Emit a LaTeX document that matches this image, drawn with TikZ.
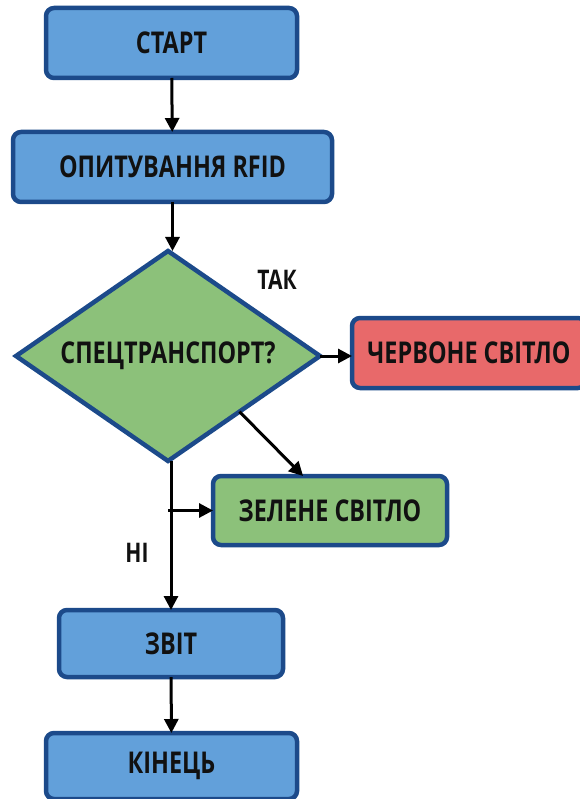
\documentclass[tikz,border=0pt]{standalone}
\usepackage{fontspec}
\setmainfont{Open Sans}[FakeStretch=0.78]
\usetikzlibrary{shapes.geometric,arrows.meta,calc}
\definecolor{edgeblue}{HTML}{1C4A8A}
\definecolor{boxblue}{HTML}{62A0DA}
\definecolor{boxgreen}{HTML}{8CC17A}
\definecolor{boxred}{HTML}{E8696A}
\definecolor{ink}{HTML}{111111}
\begin{document}
\begin{tikzpicture}[x=1pt,y=-1pt,
  every node/.style={font=\fontsize{30}{33}\selectfont\bfseries, text=ink},
  block/.style={draw=edgeblue, line width=4.5pt, rounded corners=8pt, inner sep=0pt, outer sep=0pt},
  procbox/.style={block, fill=boxblue},
  decision/.style={diamond, draw=edgeblue, line width=4.5pt, fill=boxgreen, inner sep=0pt, outer sep=0pt,
    minimum width=304pt, minimum height=210pt},
  flow/.style={line width=3pt, draw=black, -{Triangle[length=14pt,width=14pt]}},
  label/.style={font=\fontsize{27}{30}\selectfont\bfseries}
]
\useasboundingbox[fill=white] (0,0) rectangle (579,799);

% process steps
\node[procbox, minimum width=251pt, minimum height=70pt] (start) at (171.5,43) {СТАРТ};
\node[procbox, minimum width=319pt, minimum height=70pt] (poll) at (172.5,167) {ОПИТУВАННЯ RFID};
\node[decision] (check) at (168,356) {};
\node (checktext) at (check.center) {СПЕЦТРАНСПОРТ?};
\node[block, fill=boxred, minimum width=234pt, minimum height=70pt] (red) at (469,353) {ЧЕРВОНЕ СВІТЛО};
\node[block, fill=boxgreen, minimum width=234pt, minimum height=69pt] (green) at (330,510.5) {ЗЕЛЕНЕ СВІТЛО};
\node[procbox, minimum width=224pt, minimum height=67pt] (report) at (171,643.5) {ЗВІТ};
\node[procbox, minimum width=251pt, minimum height=66pt] (finish) at (171.5,766) {КІНЕЦЬ};

% branch labels
\node[label] (yes) at (277,280) {ТАК};
\node[label] (no) at (137,553) {НІ};

% connectors
\draw[flow] (start) -- (poll);
\draw[flow] (poll.south) -- (poll.south |- check.north);
\draw[flow] (check.east) -- (red.west |- check.east);
\coordinate (diagstart) at ($(check.east)!0.53!(check.south)$);
\coordinate (diagend) at ($(green.north west)!0.385!(green.north east)$);
\draw[flow] (diagstart) -- (diagend);
\draw[flow] (check.south -| report.north) -- (report.north);
\draw[flow] (check.south |- green.west) -- (green.west);
\draw[flow] (report) -- (finish);
\end{tikzpicture}
\end{document}
